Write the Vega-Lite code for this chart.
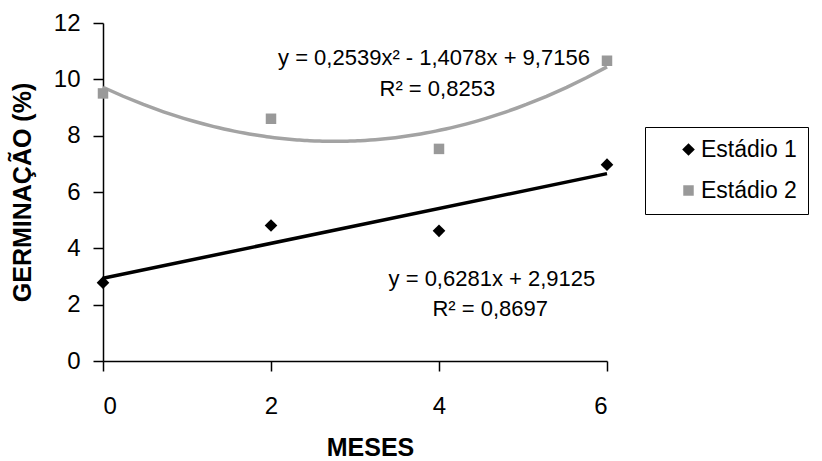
{
  "$schema": "https://vega.github.io/schema/vega-lite/v6.json",
  "autosize": {"type": "none"},
  "width": 504,
  "height": 338,
  "padding": {"left": 103, "top": 23, "right": 215, "bottom": 100},
  "background": "white",
  "config": {
    "view": {"stroke": null},
    "font": "Liberation Sans",
    "axis": {
      "grid": false,
      "domainColor": "black",
      "domainWidth": 1.5,
      "tickColor": "black",
      "tickWidth": 1.5,
      "tickSize": 10,
      "labelFont": "Liberation Sans",
      "labelFontSize": 24,
      "labelColor": "black",
      "titleFont": "Liberation Sans",
      "titleFontWeight": "bold",
      "titleColor": "black"
    }
  },
  "datasets": {
    "pts": [
      {"meses": 0, "germ": 2.78, "serie": "Estádio 1"},
      {"meses": 2, "germ": 4.81, "serie": "Estádio 1"},
      {"meses": 4, "germ": 4.62, "serie": "Estádio 1"},
      {"meses": 6, "germ": 6.97, "serie": "Estádio 1"},
      {"meses": 0, "germ": 9.5, "serie": "Estádio 2"},
      {"meses": 2, "germ": 8.6, "serie": "Estádio 2"},
      {"meses": 4, "germ": 7.53, "serie": "Estádio 2"},
      {"meses": 6, "germ": 10.66, "serie": "Estádio 2"}
    ],
    "notes": [
      {"meses": 3.94, "germ": 10.77, "label": "y = 0,2539x² - 1,4078x + 9,7156"},
      {"meses": 3.98, "germ": 9.64, "label": "R² = 0,8253"},
      {"meses": 4.63, "germ": 2.9, "label": "y = 0,6281x + 2,9125"},
      {"meses": 4.61, "germ": 1.83, "label": "R² = 0,8697"}
    ]
  },
  "layer": [
    {
      "data": {"name": "pts"},
      "transform": [
        {"filter": "datum.serie === 'Estádio 2'"},
        {"regression": "germ", "on": "meses", "method": "poly", "order": 2}
      ],
      "mark": {"type": "line", "color": "#a3a3a3", "strokeWidth": 3.5},
      "encoding": {
        "x": {"field": "meses", "type": "quantitative"},
        "y": {"field": "germ", "type": "quantitative"}
      }
    },
    {
      "data": {"name": "pts"},
      "transform": [
        {"filter": "datum.serie === 'Estádio 1'"},
        {"regression": "germ", "on": "meses", "method": "linear"}
      ],
      "mark": {"type": "line", "color": "black", "strokeWidth": 3.5},
      "encoding": {
        "x": {"field": "meses", "type": "quantitative"},
        "y": {"field": "germ", "type": "quantitative"}
      }
    },
    {
      "data": {"name": "pts"},
      "mark": {"type": "point", "filled": true, "opacity": 1},
      "encoding": {
        "x": {
          "field": "meses", "type": "quantitative",
          "scale": {"domain": [0, 6], "nice": false},
          "axis": {"values": [0, 2, 4, 6], "format": "d", "title": "MESES", "titleFontSize": 25, "titlePadding": 17, "labelPadding": 23, "titleX": 267}
        },
        "y": {
          "field": "germ", "type": "quantitative",
          "scale": {"domain": [0, 12], "nice": false},
          "axis": {"values": [0, 2, 4, 6, 8, 10, 12], "format": "d", "title": "GERMINAÇÃO (%)", "titleFontSize": 25, "titlePadding": 18, "labelPadding": 13}
        },
        "color": {
          "field": "serie", "type": "nominal",
          "scale": {"domain": ["Estádio 1", "Estádio 2"], "range": ["black", "#999999"]},
          "legend": {
            "title": null,
            "orient": "none",
            "legendX": 542,
            "legendY": 104,
            "strokeColor": "black",
            "fillColor": "white",
            "padding": 11,
            "labelFont": "Liberation Sans",
            "labelFontSize": 23,
            "labelColor": "black",
            "symbolSize": 130,
            "symbolOffset": 21,
            "labelOffset": 1,
            "rowPadding": 17,
            "symbolStrokeWidth": 0
          }
        },
        "shape": {
          "field": "serie", "type": "nominal",
          "scale": {"domain": ["Estádio 1", "Estádio 2"], "range": ["diamond", "square"]},
          "legend": null
        },
        "size": {
          "field": "serie", "type": "nominal",
          "scale": {"domain": ["Estádio 1", "Estádio 2"], "range": [160, 110]},
          "legend": null
        }
      }
    },
    {
      "data": {"name": "notes"},
      "mark": {"type": "text", "fontSize": 22, "font": "Liberation Sans", "color": "black", "align": "center", "baseline": "middle"},
      "encoding": {
        "x": {"field": "meses", "type": "quantitative"},
        "y": {"field": "germ", "type": "quantitative"},
        "text": {"field": "label"}
      }
    }
  ]
}
